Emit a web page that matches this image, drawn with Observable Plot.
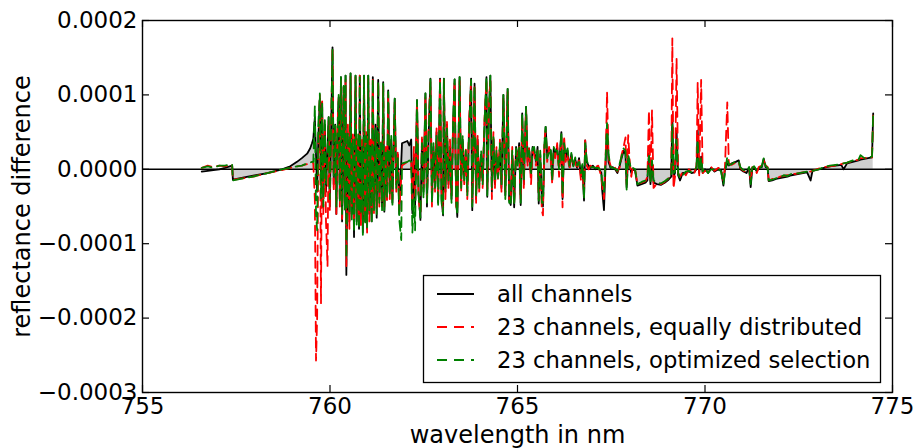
<!DOCTYPE html>
<html>
<head>
<meta charset="utf-8">
<script src="https://cdn.jsdelivr.net/npm/d3@7"></script>
<script src="https://cdn.jsdelivr.net/npm/@observablehq/plot@0.6"></script>
<style>
  body { margin: 0; background: #fff; }
  #wrap { position: relative; width: 918px; height: 448px; font-family: "DejaVu Sans", sans-serif; }
  #legend { position: absolute; left: 0; top: 0; }
</style>
</head>
<body>
<div id="wrap"></div>
<script>
// wavelength in nm
const wavelength = [
  756.58, 756.74, 756.89, 757.05, 757.20, 757.39, 757.41, 757.71, 758.02, 758.33,
  758.72, 758.94, 759.12, 759.25, 759.39, 759.47, 759.52,
  759.555, 759.596, 759.627, 759.657, 759.688, 759.729, 759.760, 759.790, 759.821, 759.862,
  759.893, 759.934, 759.964, 759.995, 760.026, 760.067, 760.098, 760.139, 760.169, 760.200,
  760.231, 760.262, 760.292, 760.323, 760.364, 760.395, 760.415, 760.436, 760.477, 760.518,
  760.548, 760.579, 760.610, 760.641, 760.681, 760.712, 760.753, 760.774, 760.794, 760.825,
  760.856, 760.876, 760.907, 760.938, 760.968, 760.989, 761.020, 761.050, 761.081, 761.112,
  761.142, 761.173, 761.214, 761.245, 761.286, 761.316, 761.357, 761.388, 761.419, 761.449,
  761.490, 761.521, 761.552, 761.593, 761.634, 761.664, 761.726, 761.767, 761.808, 761.849,
  761.900, 761.920, 762.064, 762.115, 762.166, 762.197, 762.238, 762.269, 762.320, 762.361,
  762.412, 762.453, 762.494, 762.545, 762.586, 762.627, 762.678, 762.719, 762.760, 762.801,
  762.842, 762.883, 762.934, 762.975, 763.016, 763.037, 763.078, 763.119, 763.159, 763.200,
  763.241, 763.282, 763.323, 763.364, 763.395, 763.456, 763.497, 763.538, 763.579, 763.620,
  763.661, 763.712, 763.763, 763.794, 763.855, 763.896, 763.937, 763.978, 764.030, 764.071,
  764.122, 764.173, 764.194, 764.235, 764.276, 764.317, 764.358, 764.399, 764.440, 764.481,
  764.532, 764.573, 764.624, 764.675, 764.737, 764.778, 764.819, 764.860, 764.911, 764.962,
  765.003, 765.044, 765.085, 765.126, 765.167, 765.228, 765.269, 765.310, 765.361, 765.402,
  765.443, 765.494, 765.535, 765.566, 765.607, 765.648, 765.679, 765.720, 765.750, 765.791,
  765.843, 765.884, 765.925, 765.966, 766.007, 766.058, 766.109, 766.170, 766.201, 766.242,
  766.283, 766.334, 766.385, 766.436, 766.487, 766.539, 766.590, 766.641, 766.692, 766.733,
  766.774, 766.805, 766.846, 766.897, 766.948, 767.009, 767.081, 767.153, 767.235, 767.255,
  767.306, 767.358, 767.388, 767.429, 767.480, 767.542, 767.603, 767.665, 767.726, 767.777,
  767.829, 767.880, 767.911, 767.952, 767.993, 768.034, 768.075, 768.136, 768.198, 768.310,
  768.413, 768.464, 768.505, 768.546, 768.587, 768.628, 768.720, 768.822, 768.925, 769.027,
  769.099, 769.129, 769.160, 769.201, 769.242, 769.283, 769.334, 769.406, 769.488, 769.570,
  769.641, 769.713, 769.774, 769.805, 769.846, 769.897, 769.938, 770.000, 770.082, 770.164,
  770.256, 770.358, 770.430, 770.491, 770.532, 770.594, 770.635, 770.716, 770.819, 770.901,
  770.942, 771.024, 771.106, 771.177, 771.218, 771.259, 771.310, 771.382, 771.433, 771.515,
  771.566, 771.617, 771.669, 771.699, 771.792, 771.894, 771.996, 772.099, 772.201, 772.304,
  772.406, 772.508, 772.611, 772.723, 772.816, 772.867, 773.031, 773.174, 773.328, 773.481,
  773.635, 773.696, 773.788, 773.942, 774.095, 774.147, 774.249, 774.351, 774.454, 774.485
];

// reflectance difference, in units of 1e-6
const allChannels = [
  -3, -2, -1, 0, 2, 5, -14, -11, -8, -5,
  0, 4, 10, 15, 21, 28, 35,
  41, 70, 20, -30, 40, 95, -20, 90, -40, 60,
  -30, 30, 70, -50, 40, 164, -20, 60, -60, 40,
  97, -40, 124, -70, 111, -50, 126, -142, 40, -70,
  129, -60, 30, -91, 126, -70, 40, -80, 126, -60,
  30, -85, 126, -70, 40, -80, 126, -60, 35, -70,
  124, -50, 60, -65, 120, -40, 30, -50, 117, -57,
  20, -40, 106, -30, 40, -45, 95, -20, 20, -60,
  10, 35, 38, 32, 40, -59, 20, -50, 93, -30,
  -68, 40, -30, 102, -50, 40, 122, -40, 30, -20,
  50, -45, 122, -40, -62, 122, -30, 60, -20, 30,
  -40, 60, 121, -40, -64, 124, -20, 40, -10, 20,
  -30, 60, 122, -55, 115, -40, 40, -20, 20, -15,
  60, 124, -37, 70, 126, -30, 40, -20, 20, -10,
  30, -25, 100, -35, 108, -42, -48, 20, -51, 30,
  10, 35, -48, 75, -20, 84, 10, 28, -10, 30,
  25, 10, 30, -46, 20, -40, -50, 30, 57, 20,
  27, 25, -10, 28, 20, 30, 5, 50, -40, 30,
  15, 25, 3, 20, 5, 14, 2, 15, -10, 5,
  -42, 39, 10, 5, 2, 5, 0, 3, -5, -26,
  -55, 20, 59, 10, 2, 3, 0, -5, 5, 15,
  25, 20, -24, 17, 5, -5, 0, -2, -22, -20,
  -18, -15, 21, -20, 10, -18, -20, -21, -18, -14,
  -10, 73, -10, -5, 52, -8, -15, -5, -5, -3,
  -5, -4, 0, 52, -5, 17, -5, 0, -5, 2,
  -3, 0, -2, -22, 0, 8, 5, 8, 10, 12,
  0, -3, -5, 2, -24, 0, 3, -3, 2, 3,
  14, 3, 2, -16, -15, -13, -12, -11, -10, -8,
  -7, -6, -5, -4, -15, -2, 0, 2, 4, 5,
  6, 0, 8, 10, 12, 13, 14, 15, 16, 75
];

const equallyDistributed = [
  2, 5, 3, 5, 4, 6, -14, -12, -9, -5,
  -1, 2, 4, 5, 7, 9, 10,
  8, -40, -257, -200, 30, 100, -180, 95, -60, 55,
  -70, -130, 65, -55, 40, 164, -30, 55, -60, 60,
  95, -50, 120, -70, 110, -50, 120, -130, 60, -80,
  125, -50, 50, -80, 124, -60, 45, -70, 126, -75,
  40, -75, 120, -65, 50, -85, 122, -70, 40, -60,
  120, -60, 40, -55, 118, -50, 40, -45, 112, -50,
  30, -45, 100, -40, 30, -40, 90, -30, 25, -55,
  -10, 5, 10, 8, 10, -40, 30, -40, 90, -40,
  -60, 45, -25, 100, -40, 55, 118, -50, 25, -30,
  55, -40, 120, -30, -55, 120, -40, 65, -25, 40,
  -35, 55, 118, -50, -55, 120, -30, 35, -20, 30,
  -40, 70, 118, -45, 110, -45, 45, -30, 15, -25,
  70, 120, -30, 80, 122, -40, 50, -25, 30, -15,
  40, -30, 95, -30, 104, -40, -40, 30, -45, 25,
  15, 30, -40, 70, -25, 80, 5, 30, -20, 25,
  20, 5, 25, -40, 15, -55, -62, 40, 52, 10,
  30, 20, -20, 25, 15, 35, -10, 45, -51, 45,
  10, 20, 0, 18, 8, 10, 0, 12, -15, 0,
  -35, 39, 5, 0, 5, 2, 3, 5, -10, -20,
  -40, 30, 104, 15, 5, 0, 2, -3, 3, 20,
  30, 43, -20, 46, 10, -10, 3, 0, -20, -18,
  -16, -10, 79, -15, 79, -25, -19, -20, -17, -12,
  -8, 176, -26, -10, 149, -5, -10, -3, -8, 0,
  -3, -6, 5, 117, -8, 120, -5, -2, -3, 3,
  -2, 2, 0, -15, 3, 90, 8, 6, 9, 10,
  2, -2, -4, 0, -15, 3, 2, -5, 3, 5,
  12, 5, 3, -15, -13, -12, -10, -9, -8, -7,
  -6, -5, -4, -3, -3, -2, 1, 3, 4, 5,
  7, 8, 9, 11, 13, 15, 15, 16, 16, 75
];

const optimizedSelection = [
  2, 4, 2, 5, 5, 7, -15, -12, -9, -5,
  0, 2, 4, 5, 8, 9, 10,
  10, 86, -60, -82, 60, 102, -40, 90, -50, 70,
  -20, 20, 70, -40, 45, 162, -10, 60, -50, 50,
  100, -45, 124, -60, 112, -55, 126, -120, 50, -60,
  129, -70, 40, -85, 126, -75, 50, -80, 124, -60,
  30, -88, 126, -75, 45, -78, 126, -55, 30, -72,
  122, -55, 55, -60, 118, -45, 35, -55, 115, -55,
  25, -38, 104, -35, 45, -50, 95, -25, 15, -68,
  -95, 8, 10, 12, 10, -85, -40, -82, 93, -35,
  -65, 35, -40, 102, -45, 45, 122, -45, 35, -25,
  45, -50, 120, -45, -60, 122, -25, 55, -15, 25,
  -45, 65, 121, -45, -62, 124, -25, 45, -15, 25,
  -35, 55, 120, -50, 112, -35, 35, -25, 25, -20,
  65, 124, -35, 75, 126, -25, 45, -15, 25, -12,
  35, -20, 100, -40, 108, -45, -45, 25, -48, 28,
  5, 30, -45, 75, -15, 84, 15, 25, -5, 28,
  30, 12, 28, -42, 25, -45, -45, 35, 57, 15,
  22, 28, -15, 30, 25, 25, 0, 50, -35, 35,
  20, 28, 5, 22, 3, 16, 5, 10, -5, 8,
  -40, 35, 12, 5, 3, 3, 2, 2, -3, -15,
  -30, 25, 62, 20, 3, 2, 1, -2, 8, 18,
  28, 25, -28, 20, 8, 0, 2, 0, -20, -17,
  -15, -12, 18, -18, 12, -15, -18, -19, -16, -12,
  -10, 60, -5, -3, 40, -5, -12, -8, -3, -2,
  -4, -2, 3, 40, -3, 15, -3, 2, -5, 0,
  0, 1, -3, -20, -5, 17, 6, 7, 11, 11,
  3, -1, -3, 3, -20, 2, 4, -2, 1, 4,
  15, 4, 2, -15, -14, -12, -11, -8, -9, -6,
  -6, -5, -4, -3, -4, -2, 0, 3, 5, 6,
  7, 8, 9, 12, 13, 19, 15, 16, 17, 75
];

const unit = 1e-6;
const xTicks = [755, 760, 765, 770, 775];
const yTicks = [-0.0003, -0.0002, -0.0001, 0, 0.0001, 0.0002];
const seriesLabels = ["all channels", "23 channels, equally distributed", "23 channels, optimized selection"];
const seriesColors = ["black", "red", "green"];

if (allChannels.length !== wavelength.length || equallyDistributed.length !== wavelength.length || optimizedSelection.length !== wavelength.length) {
  throw new Error("length mismatch " + wavelength.length + " " + allChannels.length + " " + equallyDistributed.length + " " + optimizedSelection.length);
}

const rows = wavelength.map((w, i) => ({
  w,
  a: allChannels[i] * unit,
  e: equallyDistributed[i] * unit,
  o: optimizedSelection[i] * unit
}));

const W = 918, H = 448;
const mL = 142, mR = 26, mT = 20, mB = 56;
const pw = W - mL - mR, ph = H - mT - mB;
const tickLen = 7;

const chart = Plot.plot({
  width: W, height: H,
  marginLeft: mL, marginRight: mR, marginTop: mT, marginBottom: mB,
  style: { fontFamily: "DejaVu Sans", fontSize: "23px", color: "black", background: "white", overflow: "visible" },
  x: { domain: [755, 775], ticks: xTicks, tickSize: 0, tickPadding: 5, label: null, tickFormat: d3.format("d") },
  y: { domain: [-0.0003, 0.0002], ticks: yTicks, tickSize: 0, tickPadding: 5, label: null, tickFormat: d3.format(".4f") },
  marks: [
    Plot.areaY(rows, { x: "w", y: "a", fill: "#cfcfcf" }),
    Plot.ruleY([0], { stroke: "black", strokeWidth: 1.6 }),
    Plot.line(rows, { x: "w", y: "a", stroke: seriesColors[0], strokeWidth: 1.8 }),
    Plot.line(rows, { x: "w", y: "e", stroke: seriesColors[1], strokeWidth: 1.8, strokeDasharray: "10,6" }),
    Plot.line(rows, { x: "w", y: "o", stroke: seriesColors[2], strokeWidth: 1.8, strokeDasharray: "10,6" }),
    Plot.tickX(xTicks, { x: d => d, stroke: "black", strokeWidth: 1.2, insetTop: ph - tickLen }),
    Plot.tickX(xTicks, { x: d => d, stroke: "black", strokeWidth: 1.2, insetBottom: ph - tickLen }),
    Plot.tickY(yTicks, { y: d => d, stroke: "black", strokeWidth: 1.2, insetRight: pw - tickLen }),
    Plot.tickY(yTicks, { y: d => d, stroke: "black", strokeWidth: 1.2, insetLeft: pw - tickLen }),
    Plot.frame({ stroke: "black", strokeWidth: 1.4 }),
    Plot.text(["reflectance difference"], { frameAnchor: "left", dx: -120, rotate: -90, textAnchor: "middle", lineAnchor: "middle", fontSize: 24, fill: "black" }),
    Plot.text(["wavelength in nm"], { frameAnchor: "bottom", dy: 43, textAnchor: "middle", lineAnchor: "middle", fontSize: 24, fill: "black" })
  ]
});

const wrap = document.getElementById("wrap");
wrap.appendChild(chart);

// legend overlay (inside the axes, lower right)
const ns = "http://www.w3.org/2000/svg";
const leg = document.createElementNS(ns, "svg");
leg.setAttribute("id", "legend");
leg.setAttribute("width", W);
leg.setAttribute("height", H);
const box = document.createElementNS(ns, "rect");
box.setAttribute("x", 423.5); box.setAttribute("y", 275.5);
box.setAttribute("width", 457); box.setAttribute("height", 107);
box.setAttribute("fill", "white"); box.setAttribute("stroke", "black"); box.setAttribute("stroke-width", 1.3);
leg.appendChild(box);
const rowY = [294, 327, 360];
seriesLabels.forEach((lab, i) => {
  const ln = document.createElementNS(ns, "line");
  ln.setAttribute("x1", 437); ln.setAttribute("x2", 474);
  ln.setAttribute("y1", rowY[i]); ln.setAttribute("y2", rowY[i]);
  ln.setAttribute("stroke", seriesColors[i]); ln.setAttribute("stroke-width", 2);
  if (i > 0) ln.setAttribute("stroke-dasharray", "10,7");
  leg.appendChild(ln);
  const t = document.createElementNS(ns, "text");
  t.setAttribute("x", 497); t.setAttribute("y", rowY[i]);
  t.setAttribute("dy", "0.35em");
  t.setAttribute("font-family", "DejaVu Sans");
  t.setAttribute("font-size", "22.7px");
  t.setAttribute("fill", "black");
  t.textContent = lab;
  leg.appendChild(t);
});
wrap.appendChild(leg);
</script>
</body>
</html>
